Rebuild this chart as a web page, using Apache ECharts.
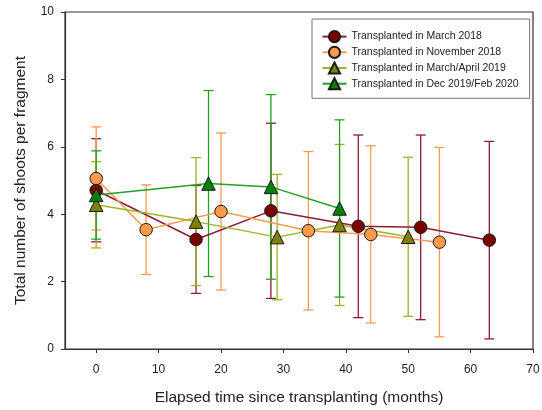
<!DOCTYPE html>
<html>
<head>
<meta charset="utf-8">
<script src="https://cdn.jsdelivr.net/npm/echarts@6/dist/echarts.min.js"></script>
<style>html,body{margin:0;padding:0;background:#fff;}#c{width:542px;height:410px;}</style>
</head>
<body>
<div id="c"></div>
<script>
// Series data: [elapsed months, mean, sd]
var seriesNames = ['Transplanted in March 2018','Transplanted in November 2018','Transplanted in March/April 2019','Transplanted in Dec 2019/Feb 2020'];
var mar2018 = [[0,4.71,1.53],[16,3.25,1.6],[28,4.10,2.6],[42,3.64,2.71],[52,3.61,2.74],[63,3.23,2.93]];
var nov2018 = [[0,5.06,1.53],[8,3.54,1.33],[20,4.08,2.33],[34,3.51,2.35],[44,3.40,2.63],[55,3.17,2.81]];
var marApr2019 = [[0,4.28,1.28],[16,3.78,1.9],[29,3.32,1.86],[39,3.68,2.39],[50,3.33,2.36]];
var dec2019 = [[0,4.57,1.31],[18,4.91,2.76],[28,4.81,2.74],[39,4.17,2.63]];
var xTicks = [0,10,20,30,40,50,60,70];
var yTicks = [0,2,4,6,8,10];

var lineColors = ['#8e1b35','#ff9a52','#9cb526','#24a024'];
var fillColors = ['#7a0000','#ff9a4a','#808000','#008000'];
var symbols = ['circle','circle','triangle','triangle'];
var datasets = [mar2018, nov2018, marApr2019, dec2019];

var series = [];
datasets.forEach(function(d, i){
  series.push({
    type: 'custom',
    name: seriesNames[i] + ' err',
    silent: true,
    z: 1,
    data: d.map(function(p){ return [p[0], p[1]-p[2], p[1]+p[2]]; }),
    encode: {x: 0, y: [1,2]},
    renderItem: function(params, api){
      var x = api.value(0);
      var lo = api.coord([x, api.value(1)]);
      var hi = api.coord([x, api.value(2)]);
      var hw = 5;
      var st = {stroke: lineColors[i], lineWidth: 1.3, fill: null};
      return {type: 'group', children: [
        {type:'line', shape:{x1:lo[0],y1:lo[1],x2:hi[0],y2:hi[1]}, style: st},
        {type:'line', shape:{x1:lo[0]-hw,y1:lo[1],x2:lo[0]+hw,y2:lo[1]}, style: st},
        {type:'line', shape:{x1:hi[0]-hw,y1:hi[1],x2:hi[0]+hw,y2:hi[1]}, style: st}
      ]};
    }
  });
});
datasets.forEach(function(d, i){
  series.push({
    type: 'line',
    name: seriesNames[i],
    z: 3,
    data: d.map(function(p){ return [p[0], p[1]]; }),
    symbol: symbols[i],
    symbolSize: symbols[i]==='circle' ? 12.5 : 13.5,
    showAllSymbol: true,
    lineStyle: {color: lineColors[i], width: 1.5},
    itemStyle: {color: fillColors[i], borderColor: '#1a1a1a', borderWidth: 1},
    emphasis: {disabled: true},
    animation: false
  });
});

var chart = echarts.init(document.getElementById('c'), null, {renderer: 'canvas'});
chart.setOption({
  animation: false,
  backgroundColor: '#fff',
  textStyle: {fontFamily: 'Liberation Sans, Arial, sans-serif'},
  grid: {left: 65, right: 9, top: 12, bottom: 61, containLabel: false, outerBoundsMode: 'none', show: true, borderColor: '#333', borderWidth: 1.2, backgroundColor: 'transparent'},
  legend: {
    data: seriesNames,
    orient: 'vertical',
    left: 312, top: 19,
    padding: [11, 11, 8, 9.5],
    itemGap: 2.5,
    itemWidth: 24, itemHeight: 14,
    borderColor: '#777', borderWidth: 1,
    textStyle: {fontSize: 10.5, lineHeight: 12, color: '#222', fontFamily: 'Liberation Sans, Arial, sans-serif', padding: [0,0,0,0]}
  },
  xAxis: {
    type: 'value', min: -5, max: 70,
    name: 'Elapsed time since transplanting (months)',
    nameLocation: 'middle', nameGap: 41,
    nameTextStyle: {fontSize: 15.5, color: '#222'},
    axisLine: {show: true, onZero: false, lineStyle: {color: '#333', width: 1.2}},
    axisTick: {show: true, length: 4, inside: false, customValues: xTicks, lineStyle: {color: '#333'}},
    axisLabel: {customValues: xTicks, fontSize: 12, color: '#222', margin: 15},
    splitLine: {show: false}
  },
  yAxis: {
    type: 'value', min: 0, max: 10, interval: 2,
    name: 'Total number of shoots per fragment',
    nameLocation: 'middle', nameGap: 36,
    nameTextStyle: {fontSize: 15.5, color: '#222'},
    axisLine: {show: true, onZero: false, lineStyle: {color: '#333', width: 1.2}},
    axisTick: {show: true, length: 4, lineStyle: {color: '#333'}},
    axisLabel: {fontSize: 12, color: '#222', margin: 11},
    splitLine: {show: false}
  },
  series: series
});
</script>
</body>
</html>
